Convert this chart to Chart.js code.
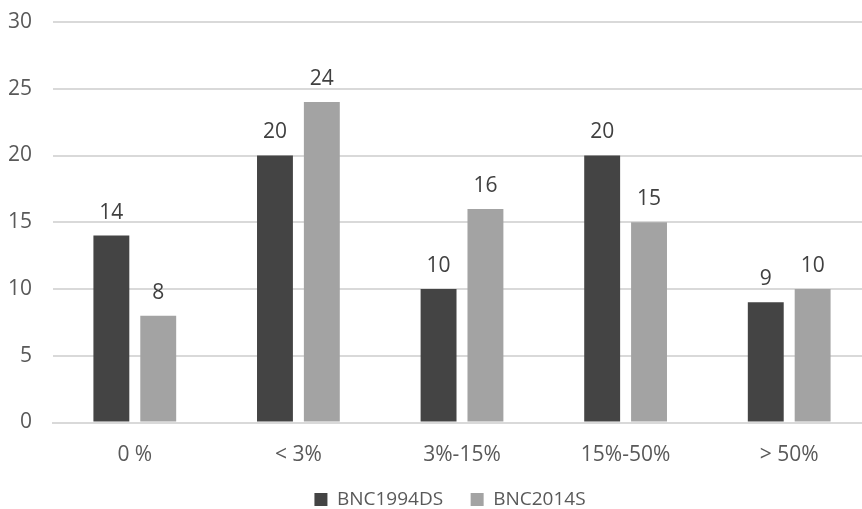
<!DOCTYPE html>
<html>
<head>
<meta charset="utf-8">
<script src="https://cdn.jsdelivr.net/npm/chart.js@4"></script>
<style>
  html, body { margin: 0; padding: 0; background: #fff; overflow: hidden; }
  #wrap { width: 900px; height: 509px; position: relative; }
</style>
</head>
<body>
<div id="wrap"><canvas id="c"></canvas></div>
<script>
// Share bands and counts per corpus
const categories = ['0 %', '< 3%', '3%-15%', '15%-50%', '> 50%'];
const bnc1994ds = [14, 20, 10, 20, 9];
const bnc2014s = [8, 24, 16, 15, 10];
const yTicks = [0, 5, 10, 15, 20, 25, 30];

const FONT = '"Open Sans", "Liberation Sans", sans-serif';
const TEXT = '#595959';
const SIZE = 21;
const LEGEND_SIZE = 19;

// Writes each bar's value just above it
const valueLabels = {
  id: 'valueLabels',
  afterDatasetsDraw(chart) {
    const ctx = chart.ctx;
    ctx.save();
    ctx.font = SIZE + 'px ' + FONT;
    ctx.fillStyle = '#404040';
    ctx.textAlign = 'center';
    ctx.textBaseline = 'middle';
    chart.data.datasets.forEach((ds, i) => {
      chart.getDatasetMeta(i).data.forEach((bar, j) => {
        ctx.fillText(String(ds.data[j]), bar.x, bar.y - 23);
      });
    });
    ctx.restore();
  }
};

// Centres the legend on the full canvas width, ignoring the right padding
const legendCentred = {
  id: 'legendCentred',
  afterLayout(chart) {
    const lg = chart.legend;
    if (!lg) return;
    const mid = chart.width / 2;
    const shift = mid - (lg.left + lg.right) / 2;
    lg.left += shift;
    lg.right += shift;
  }
};

new Chart(document.getElementById('c'), {
  type: 'bar',
  data: {
    labels: categories,
    datasets: [
      { label: 'BNC1994DS', data: bnc1994ds, backgroundColor: '#444444',
        categoryPercentage: 0.573, barPercentage: 0.766 },
      { label: 'BNC2014S', data: bnc2014s, backgroundColor: '#a3a3a3',
        categoryPercentage: 0.573, barPercentage: 0.766 }
    ]
  },
  options: {
    responsive: true,
    maintainAspectRatio: false,
    animation: false,
    layout: { padding: { top: 22, right: 29, left: 0, bottom: -10 } },
    plugins: {
      tooltip: { enabled: false },
      legend: {
        position: 'bottom',
        labels: {
          font: { family: FONT, size: LEGEND_SIZE },
          color: TEXT,
          boxWidth: 13,
          boxHeight: 13,
          padding: 27.5
        }
      }
    },
    scales: {
      x: {
        afterFit(scale) {
          scale.height = 40;
          scale.paddingLeft = 0;
          scale.paddingRight = 0;
        },
        grid: { display: false, drawTicks: false },
        border: { display: true, color: '#d9d9d9', width: 2 },
        ticks: { font: { family: FONT, size: SIZE }, color: TEXT, padding: 20 }
      },
      y: {
        min: 0,
        max: 30,
        afterFit(scale) {
          scale.width = 53;
          scale.paddingTop = 0;
          scale.paddingBottom = 0;
        },
        afterBuildTicks(scale) { scale.ticks = yTicks.map(v => ({ value: v })); },
        grid: { color: '#d9d9d9', lineWidth: 2, drawTicks: false },
        border: { display: false },
        ticks: { font: { family: FONT, size: SIZE }, color: TEXT, padding: 21 }
      }
    }
  },
  plugins: [valueLabels, legendCentred]
});
</script>
</body>
</html>
